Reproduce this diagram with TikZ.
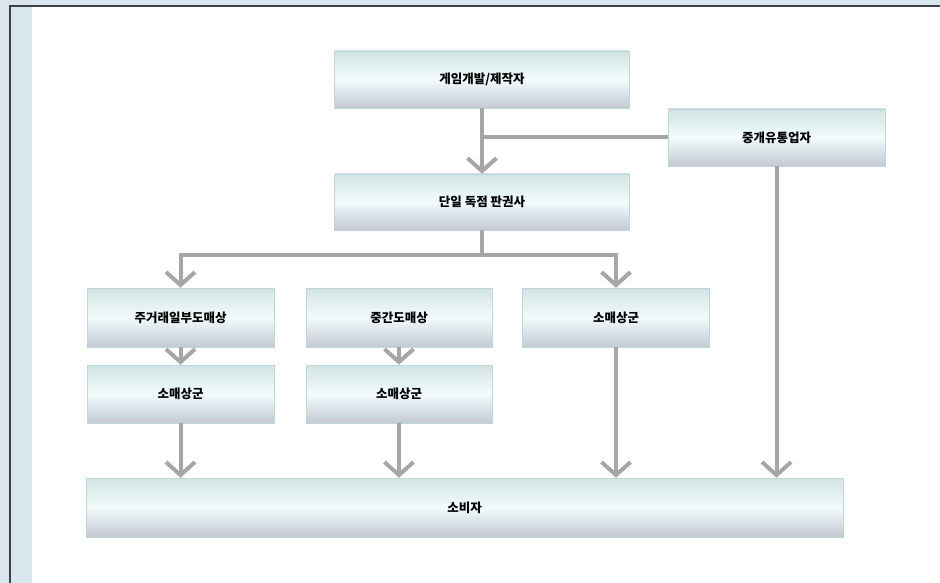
\documentclass[tikz,border=0pt]{standalone}
\usepackage{fontspec}
\newfontfamily\kr{Noto Sans CJK KR}
\usetikzlibrary{arrows.meta}
\definecolor{bgblue}{HTML}{DAE6EE}
\definecolor{frame}{HTML}{3C4248}
\definecolor{arrowgray}{HTML}{A6A6A6}
\definecolor{boxtop}{HTML}{D3E3E3}
\definecolor{boxmid}{HTML}{F2FBFC}
\definecolor{boxbot}{HTML}{C4C8D2}
\definecolor{boxline}{HTML}{BCD8D8}
\tikzset{
  box/.style={draw=boxline, line width=0.5pt, top color=boxtop, bottom color=boxbot, middle color=boxmid,
    minimum height=57pt, inner sep=0pt, font=\kr\bfseries\fontsize{12.5}{14}\selectfont, text=black},
  flow/.style={draw=arrowgray, line width=4pt},
  arr/.style={flow, -{Straight Barb[length=13pt,width=29pt]}}
}
\begin{document}
\begin{tikzpicture}[x=1pt,y=-1pt]
\useasboundingbox (0,0) rectangle (940,583);
\fill[bgblue] (0,0) rectangle (940,583);
\fill[white] (32,7) rectangle (940,583);
\draw[frame, line width=2pt] (10,583) -- (10,6) -- (940,6);

\node[box, minimum width=295pt] (dev) at (482,79.5) {게임개발/제작자};
\node[box, minimum width=217pt] (inter) at (776.5,137.5) {중개유통업자};
\node[box, minimum width=295pt, minimum height=56pt] (pub) at (482,202) {단일 독점 판권사};
\node[box, minimum width=187pt, minimum height=59pt] (w1) at (180.5,317.5) {주거래일부도매상};
\node[box, minimum width=186pt, minimum height=59pt] (w2) at (399,317.5) {중간도매상};
\node[box, minimum width=187pt, minimum height=59pt] (r3) at (616,317.5) {소매상군};
\node[box, minimum width=187pt, minimum height=58pt] (r1) at (180.5,394) {소매상군};
\node[box, minimum width=186pt, minimum height=58pt] (r2) at (399,394) {소매상군};
\node[box, minimum width=757pt, minimum height=59pt] (cons) at (464.5,507.5) {소비자};

\coordinate (j1) at (dev.south |- inter.west);
\coordinate (j2) at (482,255);

\draw[arr] (dev.south) -- (pub.north);
\draw[flow] (inter.west) -- (j1);
\draw[flow] (pub.south) -- (j2);
\draw[arr] (j2) -| (w1.north);
\draw[arr] (j2) -| (r3.north);
\draw[arr] (w1.south) -- (r1.north);
\draw[arr] (w2.south) -- (r2.north);
\draw[arr] (r1.south) -- (r1.south |- cons.north);
\draw[arr] (r2.south) -- (r2.south |- cons.north);
\draw[arr] (r3.south) -- (r3.south |- cons.north);
\draw[arr] (inter.south) -- (inter.south |- cons.north);
\end{tikzpicture}
\end{document}
